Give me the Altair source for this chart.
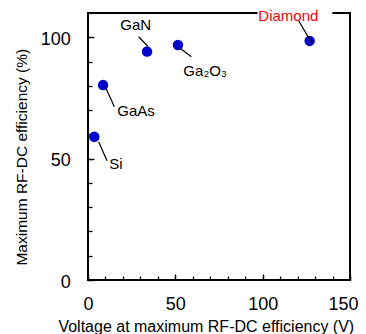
import altair as alt
import pandas as pd

# Data
materials = ["Si", "GaAs", "GaN", "Ga₂O₃", "Diamond"]
voltage = [3.6, 8.6, 33.8, 51.5, 126.9]
efficiency = [59.0, 80.3, 94.1, 96.8, 98.5]
label_colors = ["black", "black", "black", "black", "red"]

# annotation anchors (data coordinates)
label_x = [12.2, 16.8, 18.5, 54.6, 97.5]
label_y = [47.8, 69.8, 105.1, 86.0, 108.7]
leader_x1 = [6.1, 9.9, 29.0, 52.8, 120.6]
leader_y1 = [57.0, 79.6, 100.2, 95.5, 106.8]
leader_x2 = [10.9, 15.1, 34.1, 59.1, 128.2]
leader_y2 = [49.1, 71.4, 96.4, 92.0, 97.5]
mask_x = [97.1]
mask_x2 = [139.9]
mask_y = [107.9]
mask_y2 = [111.6]

x_minor_ticks = list(range(0, 151, 10))
x_major_ticks = [0, 50, 100, 150]
y_minor_ticks = list(range(0, 101, 10))
y_major_ticks = [0, 50, 100]

FONT = "Liberation Sans"

pts = pd.DataFrame({"m": materials, "v": voltage, "e": efficiency})
ann = pd.DataFrame({
    "m": materials, "c": label_colors, "lx": label_x, "ly": label_y,
})
lead_rows = []
for m, xa, ya, xb, yb in zip(materials, leader_x1, leader_y1, leader_x2, leader_y2):
    lead_rows.append({"m": m, "k": 0, "lxv": xa, "lyv": ya})
    lead_rows.append({"m": m, "k": 1, "lxv": xb, "lyv": yb})
lead = pd.DataFrame(lead_rows)
mask_df = pd.DataFrame({"mx": mask_x, "mx2": mask_x2, "my": mask_y, "my2": mask_y2})

xs = alt.Scale(domain=[0, 150], nice=False, zero=False)
ys = alt.Scale(domain=[0, 110], nice=False, zero=False)

x_minor_axis = alt.Axis(values=x_minor_ticks, labels=False, title=None, domain=False,
                        grid=False, tickSize={"expr": "-4"}, tickWidth=1.3,
                        tickColor="black", orient="bottom")
y_minor_axis = alt.Axis(values=y_minor_ticks, labels=False, title=None, domain=False,
                        grid=False, tickSize={"expr": "-4"}, tickWidth=1.3,
                        tickColor="black", orient="left")

x_major_axis = alt.Axis(values=x_major_ticks, domain=False, grid=False,
                        tickSize={"expr": "-6"}, tickWidth=1.3, tickColor="black",
                        labelPadding=21, labelFontSize=18, labelFont=FONT,
                        labelColor="black", labelFlush=False, labelOverlap=False,
                        labelOffset={"condition": {"test": "datum.value == 150", "value": -7},
                                     "value": 0},
                        title="Voltage at maximum RF-DC efficiency (V)",
                        titleFont=FONT, titleFontSize=16, titleFontWeight="normal",
                        titleColor="black", titleX=117.8, titleY=51.5,
                        titleBaseline="alphabetic", titleAlign="center",
                        orient="bottom")
y_major_axis = alt.Axis(values=y_major_ticks, domain=False, grid=False,
                        tickSize={"expr": "-6"}, tickWidth=1.3, tickColor="black",
                        labelPadding=23.7, labelFontSize=18, labelFont=FONT,
                        labelColor="black", labelFlush=False, labelOverlap=False,
                        labelOffset=2,
                        title="Maximum RF-DC efficiency (%)",
                        titleFont=FONT, titleFontSize=15.5, titleFontWeight="normal",
                        titleColor="black", titleX=-61.5, titleY=143.7,
                        titleAngle=270, titleBaseline="alphabetic", titleAlign="center",
                        orient="left")

points = alt.Chart(pts).mark_circle(size=110, color="#0000cc", opacity=1).encode(
    x=alt.X("v:Q", scale=xs, axis=x_minor_axis),
    y=alt.Y("e:Q", scale=ys, axis=y_minor_axis),
)

mask = alt.Chart(mask_df).mark_rect(color="white", opacity=1).encode(
    x=alt.X("mx:Q", scale=xs, axis=None),
    x2="mx2:Q",
    y=alt.Y("my:Q", scale=ys, axis=None),
    y2="my2:Q",
)

leaders = alt.Chart(lead).mark_line(color="black", strokeWidth=1.2).encode(
    x=alt.X("lxv:Q", scale=xs, axis=None),
    y=alt.Y("lyv:Q", scale=ys, axis=None),
    detail="m:N",
    order="k:Q",
)

labels = alt.Chart(ann).mark_text(align="left", baseline="middle", font=FONT,
                                   fontSize=15).encode(
    x=alt.X("lx:Q", scale=xs, axis=x_major_axis),
    y=alt.Y("ly:Q", scale=ys, axis=y_major_axis),
    text="m:N",
    color=alt.Color("c:N", scale=None),
)

chart = alt.layer(points, mask, leaders, labels).resolve_axis(
    x="independent", y="independent"
).properties(
    width=262, height=267,
    padding={"left": 80, "top": 5, "right": 8, "bottom": 60},
    autosize=alt.AutoSizeParams(type="none"),
).configure_view(stroke="black", strokeWidth=2)

chart.save("out.html", embed_options={"renderer": "svg", "actions": False})
